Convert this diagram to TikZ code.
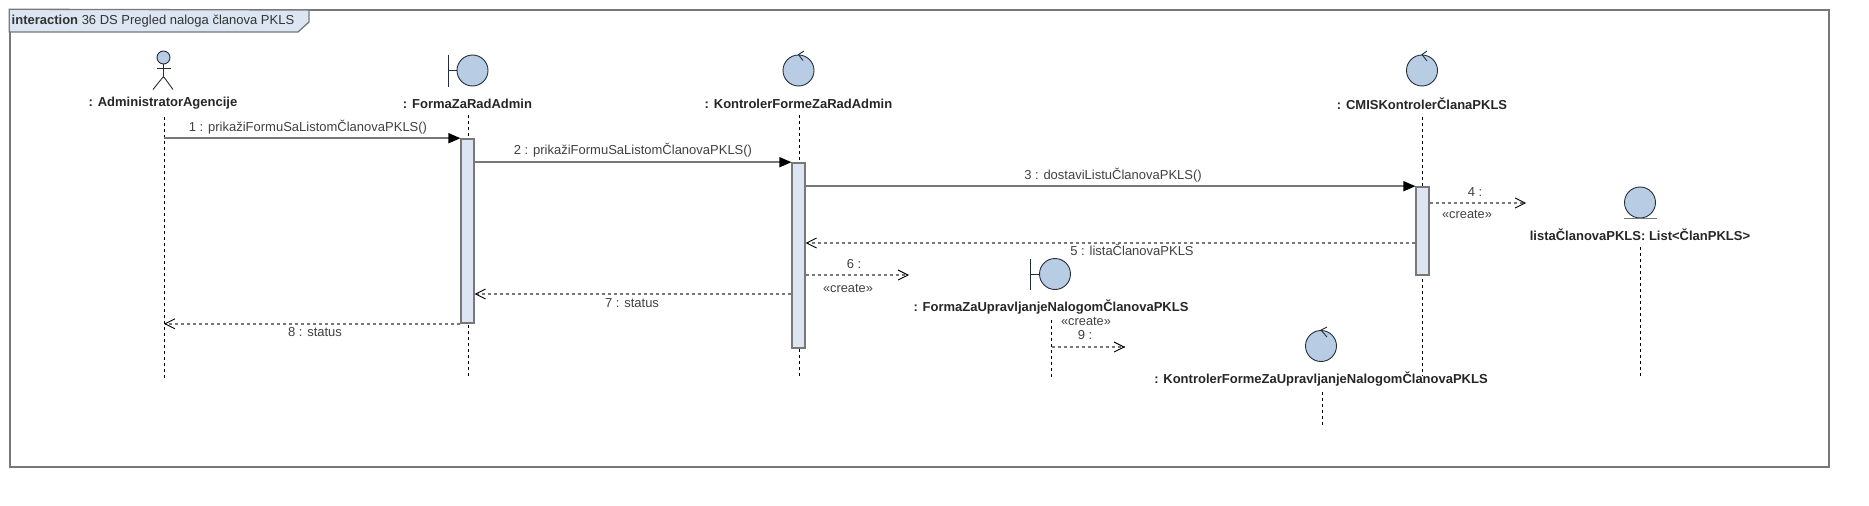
\documentclass[tikz,border=0pt]{standalone}
\usepackage{fontspec}
\setmainfont{Liberation Sans}
\usepackage{xcolor}
\usetikzlibrary{positioning, arrows.meta, calc}
\definecolor{headblue}{RGB}{184,204,228}
\definecolor{barblue}{RGB}{220,230,242}
\definecolor{linegray}{RGB}{120,120,120}
\definecolor{rimdark}{RGB}{35,45,60}
\definecolor{textgray}{RGB}{64,64,64}

\begin{document}
\begin{tikzpicture}[
    x=1pt, y=-1pt,
    headball/.style={circle, draw=rimdark, fill=headblue, line width=0.9pt, inner sep=0pt, minimum size=31pt},
    objname/.style={font=\bfseries\fontsize{13}{15}\selectfont, text=black!85, inner sep=0pt},
    msg/.style={font=\fontsize{13}{15}\selectfont, text=textgray, inner sep=0pt},
    stereo/.style={font=\fontsize{12.8}{14}\selectfont, text=textgray, inner sep=0pt},
    actbar/.style={rectangle, draw=linegray, fill=barblue, line width=1.6pt, inner sep=0pt, minimum width=12.5pt},
    lifeline/.style={black, line width=0.8pt, dash pattern=on 3pt off 3pt},
    glyph/.style={rimdark, line width=0.9pt},
    call/.style={draw=linegray, line width=1.5pt, -{Triangle[length=12pt,width=10pt,color=black]}},
    reply/.style={draw=linegray, line width=1.4pt, dash pattern=on 3pt off 3pt, -{Straight Barb[length=10pt,width=10pt,color=black,line width=0.9pt]}}
]
\useasboundingbox (0,-1) rectangle (1869,505);

% frame
\node[draw=linegray, line width=1.5pt, minimum width=1819pt, minimum height=457pt, inner sep=0pt] (frame) at (919.5,237.5) {};
\draw[draw=linegray, line width=1.3pt, fill=barblue] (frame.north west) -- (309,9) -- (309,21) -- (298,31) -- (frame.west |- 0,31) -- cycle;
\node[anchor=west, font=\fontsize{13}{15}\selectfont, text=black!80, inner sep=0pt] (title) at (11.5,20) {\textbf{interaction} 36 DS Pregled naloga članova PKLS};

% actor
\node[headball, minimum size=13pt] (actorhead) at (163.5,56.5) {};
\coordinate (actorhip) at (163.5,75.5);
\draw[glyph] (actorhead.south) -- (actorhip);
\draw[glyph] (156.5,67.5) -- (170.5,67.5);
\draw[glyph] (153,88.5) -- (actorhip) -- (173,88.5);
\node[objname] (actorname) at (163,102.5) {: AdministratorAgencije};

% boundary, control and entity heads
\node[headball] (formahead) at (472.5,69.5) {};
\draw[glyph] (formahead.west) -- ++(-8,0);
\draw[glyph] (448,53.5) -- (448,85.5);
\node[objname] (formaname) at (467.5,102.5) {: FormaZaRadAdmin};

\node[headball] (kontrolerhead) at (798.5,69.5) {};
\draw[glyph] (804,50) -- (kontrolerhead.north) -- (803,59.5);
\node[objname] (kontrolername) at (798.5,102.5) {: KontrolerFormeZaRadAdmin};

\node[headball] (cmishead) at (1422,69.5) {};
\draw[glyph] (1427,50) -- (cmishead.north) -- (1427,60);
\node[objname] (cmisname) at (1422,102.5) {: CMISKontrolerČlanaPKLS};

\node[headball] (listahead) at (1640,201.5) {};
\draw[draw=linegray, line width=1.3pt] (1623.5,217.5) -- (1656.5,217.5);
\node[objname] (listaname) at (1640,234) {listaČlanovaPKLS: List<ČlanPKLS>};

\node[headball] (upravhead) at (1055,273) {};
\draw[glyph] (upravhead.west) -- ++(-8,0);
\draw[glyph] (1030.5,257.5) -- (1030.5,288.5);
\node[objname] (upravname) at (1051,306) {: FormaZaUpravljanjeNalogomČlanovaPKLS};

\node[headball] (kuprhead) at (1321,345) {};
\draw[glyph] (1327,326) -- (kuprhead.north) -- (1327,336);
\node[objname] (kuprname) at (1321,378.5) {: KontrolerFormeZaUpravljanjeNalogomČlanovaPKLS};

% lifelines
\coordinate (actorend) at (164,377);
\coordinate (formaend) at (468.5,377);
\coordinate (kontrolerend) at (799,377);
\coordinate (cmisend) at (1422.5,375);
\coordinate (listaend) at (1640.5,377);
\coordinate (upravend) at (1051.5,377);
\coordinate (kuprend) at (1322,424);
\draw[lifeline] (actorname.south -| actorend) ++(0,7) -- (actorend);
\draw[lifeline] (formaname.south -| formaend) ++(0,7) -- (formaend);
\draw[lifeline] (kontrolername.south -| kontrolerend) ++(0,7) -- (kontrolerend);
\draw[lifeline] (cmisname.south -| cmisend) ++(0,7) -- (cmisend);
\draw[lifeline] (listaname.south -| listaend) ++(0,6) -- (listaend);
\draw[lifeline] (upravname.south -| upravend) ++(0,6) -- (upravend);
\draw[lifeline] (kuprname.south -| kuprend) ++(0,5) -- (kuprend);

% activations
\node[actbar, minimum height=184pt] (formabar) at (467.5,230) {};
\node[actbar, minimum height=185pt] (kontrolerbar) at (798.5,254.5) {};
\node[actbar, minimum height=88pt] (cmisbar) at (1422.5,230) {};

% messages
\coordinate (create4) at (1526,202);
\coordinate (create6) at (909,274);
\coordinate (create9) at (1125,346);
\draw[call] (actorend |- formabar.north) -- (formabar.north west);
\draw[call] (formabar.east |- kontrolerbar.north) -- (kontrolerbar.north west);
\draw[call] (kontrolerbar.east |- cmisbar.north) -- (cmisbar.north west);
\draw[reply] (cmisbar.east |- create4) -- (create4);
\draw[reply] (cmisbar.west |- 0,242) -- (kontrolerbar.east |- 0,242);
\draw[reply] (kontrolerbar.east |- create6) -- (create6);
\draw[reply] (kontrolerbar.west |- 0,293) -- (formabar.east |- 0,293);
\draw[reply] (formabar.south west) -- (actorend |- formabar.south);
\draw[reply] (upravend |- create9) -- (create9);

% message labels
\node[msg] (label1) at (308,126.5) {1 : prikažiFormuSaListomČlanovaPKLS()};
\node[msg] (label2) at (633,149.5) {2 : prikažiFormuSaListomČlanovaPKLS()};
\node[msg] (label3) at (1113,174) {3 : dostaviListuČlanovaPKLS()};
\node[msg] (label4) at (1475,191.5) {4 :};
\node[stereo] (create4lbl) at (1467,213.5) {«create»};
\node[msg] (label5) at (1132,249) {5 : listaČlanovaPKLS};
\node[msg] (label6) at (854,263) {6 :};
\node[stereo] (create6lbl) at (848,287.5) {«create»};
\node[msg] (label7) at (632,302.5) {7 : status};
\node[msg] (label8) at (315,331.5) {8 : status};
\node[stereo] (create9lbl) at (1086,320.5) {«create»};
\node[msg] (label9) at (1085,334.5) {9 :};
\end{tikzpicture}
\end{document}
